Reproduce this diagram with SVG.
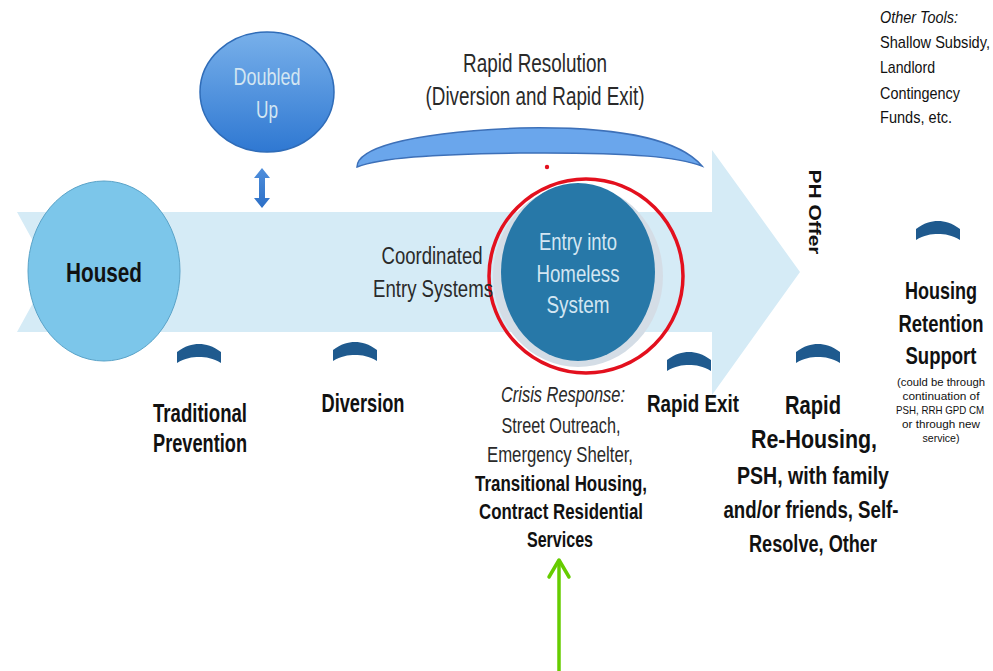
<svg xmlns="http://www.w3.org/2000/svg" width="993" height="671" viewBox="0 0 993 671">
<defs>
<style>
text{font-family:"Liberation Sans",Arial,sans-serif;text-anchor:middle}
.n{fill:#2a2a2a}
.b{font-weight:bold;fill:#111}
.lt{fill:#d3e6f2}
.chev{fill:#1f5a8e}
.sm{font-size:11px;fill:#111}
.ot{font-size:17px;fill:#111;text-anchor:start}
</style>
<linearGradient id="gd" x1="0" y1="0" x2="0" y2="1">
<stop offset="0" stop-color="#78b0ea"/>
<stop offset="1" stop-color="#2f78d2"/>
</linearGradient>
<linearGradient id="ga" x1="0" y1="0" x2="0" y2="1">
<stop offset="0" stop-color="#4f8fdc"/>
<stop offset="1" stop-color="#2c6fc6"/>
</linearGradient>
<path id="chev" d="M-22,9 L-22,-2 C-14,-8 -7,-10 0,-10 C7,-10 14,-8 22,-2 L22,9 C14,4 7,3 0,3 C-7,3 -14,4 -22,9Z"/>
</defs>
<rect width="993" height="671" fill="#fff"/>
<g id="band">
<polygon points="17,212 712,212 712,150 800,272 712,395 712,332 17,332 50,272" fill="#d5ebf6"/>
</g>
<g id="housed">
<ellipse cx="104" cy="271" rx="76" ry="90" fill="#7cc6ea" stroke="#5aa3c8" stroke-width="1"/>
<text x="104" y="282" class="b" font-size="27" textLength="76" lengthAdjust="spacingAndGlyphs">Housed</text>
</g>
<g id="doubled">
<ellipse cx="267" cy="92" rx="67" ry="60" fill="url(#gd)" stroke="#2f6cb8" stroke-width="1.5"/>
<text x="267" y="85" class="lt" font-size="24" fill="#dcebf8" textLength="67" lengthAdjust="spacingAndGlyphs">Doubled</text>
<text x="267" y="118" class="lt" font-size="24" fill="#dcebf8" textLength="22" lengthAdjust="spacingAndGlyphs">Up</text>
</g>
<g id="rapidres">
<path d="M357,167 C357,150 400,133 520,128 C620,126 680,140 702,166 C680,158 640,152 520,153 C430,154 380,158 357,167Z" fill="#6aa6ec" stroke="#3d70b8" stroke-width="1.5"/>
<text x="535" y="72" class="n" font-size="25" textLength="144" lengthAdjust="spacingAndGlyphs">Rapid Resolution</text>
<text x="535" y="105" class="n" font-size="25" textLength="219" lengthAdjust="spacingAndGlyphs">(Diversion and Rapid Exit)</text>
</g>
<g id="entry">
<ellipse cx="578" cy="276" rx="85" ry="91" fill="#d4dde6"/>
<ellipse cx="578" cy="272" rx="77" ry="89" fill="#2778a8"/>
<ellipse cx="586" cy="276" rx="97" ry="97" fill="none" stroke="#e3101e" stroke-width="3.5"/>
<circle cx="547" cy="167" r="2.2" fill="#e3101e"/>
<text x="578" y="250" class="lt" font-size="24" textLength="78" lengthAdjust="spacingAndGlyphs">Entry into</text>
<text x="578" y="282" class="lt" font-size="24" textLength="83" lengthAdjust="spacingAndGlyphs">Homeless</text>
<text x="578" y="313" class="lt" font-size="24" textLength="63" lengthAdjust="spacingAndGlyphs">System</text>
</g>
<g id="coord">
<text x="432" y="264" class="n" font-size="23" textLength="101" lengthAdjust="spacingAndGlyphs">Coordinated</text>
<text x="433" y="297" class="n" font-size="23" textLength="120" lengthAdjust="spacingAndGlyphs">Entry Systems</text>
</g>
<g id="chevrons">
<use href="#chev" class="chev" x="199" y="354"/>
<use href="#chev" class="chev" x="355" y="352"/>
<use href="#chev" class="chev" x="689" y="362"/>
<use href="#chev" class="chev" x="818" y="354"/>
<use href="#chev" class="chev" x="938" y="231"/>
</g>
<g id="tradprev">
<text x="200" y="422" class="b" font-size="25" textLength="94" lengthAdjust="spacingAndGlyphs">Traditional</text>
<text x="200" y="452" class="b" font-size="25" textLength="94" lengthAdjust="spacingAndGlyphs">Prevention</text>
</g>
<g id="diversion">
<text x="363" y="412" class="b" font-size="25" textLength="83" lengthAdjust="spacingAndGlyphs">Diversion</text>
</g>
<g id="crisis">
<text x="563" y="402" class="n" font-style="italic" font-size="22" textLength="124" lengthAdjust="spacingAndGlyphs">Crisis Response:</text>
<text x="561" y="433" class="n" font-size="22" textLength="119" lengthAdjust="spacingAndGlyphs">Street Outreach,</text>
<text x="560" y="462" class="n" font-size="22" textLength="146" lengthAdjust="spacingAndGlyphs">Emergency Shelter,</text>
<text x="561" y="491" class="b" font-size="22" textLength="172" lengthAdjust="spacingAndGlyphs">Transitional Housing,</text>
<text x="561" y="519" class="b" font-size="22" textLength="164" lengthAdjust="spacingAndGlyphs">Contract Residential</text>
<text x="560" y="547" class="b" font-size="22" textLength="66" lengthAdjust="spacingAndGlyphs">Services</text>
</g>
<g id="rapidexit">
<text x="693" y="412" class="b" font-size="23" textLength="92" lengthAdjust="spacingAndGlyphs">Rapid Exit</text>
</g>
<g id="phoffer">
<text x="0" y="0" class="b" font-size="17" text-anchor="start" textLength="85" lengthAdjust="spacingAndGlyphs" transform="translate(809,212) rotate(90)">PH Offer</text>
</g>
<g id="rrh">
<text x="813" y="414" class="b" font-size="26" textLength="56" lengthAdjust="spacingAndGlyphs">Rapid</text>
<text x="814" y="448" class="b" font-size="26" textLength="126" lengthAdjust="spacingAndGlyphs">Re-Housing,</text>
<text x="813" y="484" class="b" font-size="23" textLength="152" lengthAdjust="spacingAndGlyphs">PSH, with family</text>
<text x="811" y="518" class="b" font-size="23" textLength="175" lengthAdjust="spacingAndGlyphs">and/or friends, Self-</text>
<text x="813" y="552" class="b" font-size="23" textLength="128" lengthAdjust="spacingAndGlyphs">Resolve, Other</text>
</g>
<g id="retention">
<text x="941" y="299" class="b" font-size="24" textLength="72" lengthAdjust="spacingAndGlyphs">Housing</text>
<text x="941" y="332" class="b" font-size="24" textLength="85" lengthAdjust="spacingAndGlyphs">Retention</text>
<text x="941" y="364" class="b" font-size="24" textLength="71" lengthAdjust="spacingAndGlyphs">Support</text>
<text x="941" y="386" class="sm" textLength="88" lengthAdjust="spacingAndGlyphs">(could be through</text>
<text x="941" y="400" class="sm" textLength="77" lengthAdjust="spacingAndGlyphs">continuation of</text>
<text x="940" y="414" class="sm" textLength="88" lengthAdjust="spacingAndGlyphs">PSH, RRH GPD CM</text>
<text x="941" y="428" class="sm" textLength="78" lengthAdjust="spacingAndGlyphs">or through new</text>
<text x="941" y="442" class="sm" textLength="37" lengthAdjust="spacingAndGlyphs">service)</text>
</g>
<g id="othertools">
<text x="880" y="23" class="ot" font-style="italic" textLength="78" lengthAdjust="spacingAndGlyphs">Other Tools:</text>
<text x="880" y="48" class="ot" textLength="110" lengthAdjust="spacingAndGlyphs">Shallow Subsidy,</text>
<text x="880" y="73" class="ot" textLength="55" lengthAdjust="spacingAndGlyphs">Landlord</text>
<text x="880" y="99" class="ot" textLength="80" lengthAdjust="spacingAndGlyphs">Contingency</text>
<text x="880" y="123" class="ot" textLength="72" lengthAdjust="spacingAndGlyphs">Funds, etc.</text>
</g>
<g id="connectors">
<polygon points="262,168 270,178 265,178 265,198 270,198 262,208 254,198 259,198 259,178 254,178" fill="url(#ga)"/>
<line x1="559" y1="671" x2="559" y2="560" stroke="#66cc00" stroke-width="3.5"/>
<polyline points="549,577 559,560 569,577" fill="none" stroke="#66cc00" stroke-width="3.5" stroke-linecap="round" stroke-linejoin="round"/>
</g>
</svg>
